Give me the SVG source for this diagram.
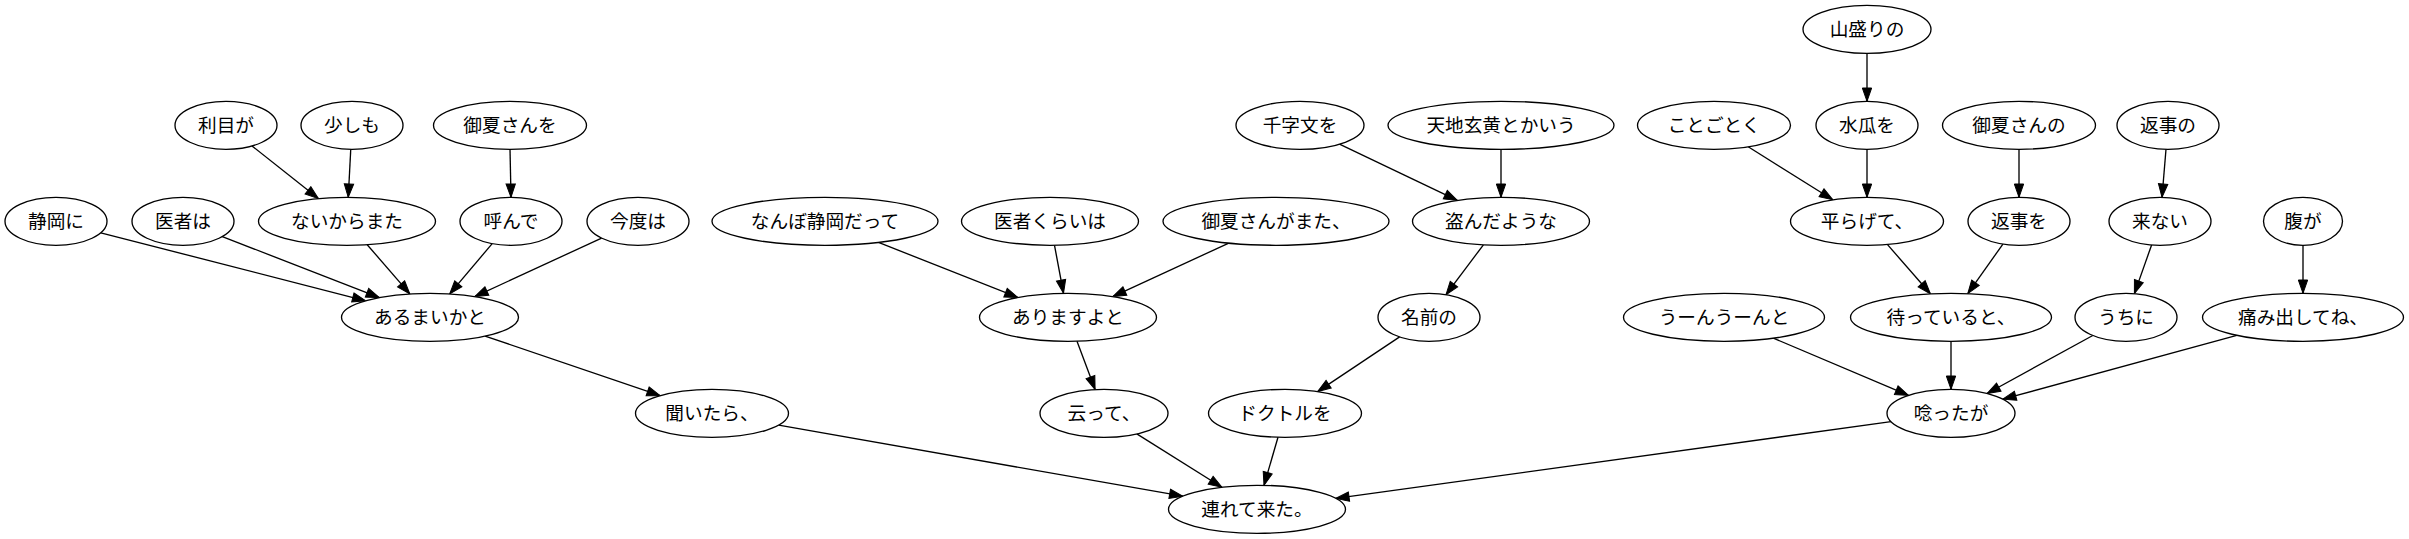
<svg xmlns="http://www.w3.org/2000/svg" width="2409" height="539" viewBox="0 0 2409 539">
<style>
.n ellipse{fill:#fff;stroke:#000;stroke-width:1.33}
.n text{font-family:"Noto Sans CJK JP","Noto Sans",sans-serif;font-size:18.67px;text-anchor:middle;fill:#000}
.e line{stroke:#000;stroke-width:1.33;marker-end:url(#ah)}
</style>
<defs>
<marker id="ah" markerUnits="userSpaceOnUse" markerWidth="16" markerHeight="12" viewBox="0 -6 14 12" refX="13.3" refY="0" orient="auto">
<path d="M0,-4.67 L13.3,0 L0,4.67 z" fill="#000" stroke="#000" stroke-width="1"/>
</marker>
</defs>
<rect width="2409" height="539" fill="#fff"/>
<g id="edges" class="e">
<line x1="252.0" y1="145.9" x2="318.4" y2="198.6"/>
<line x1="350.75" y1="149.3" x2="348.25" y2="197.3"/>
<line x1="510" y1="149.3" x2="511" y2="197.3"/>
<line x1="100.8" y1="232.8" x2="365.7" y2="300.8"/>
<line x1="222.3" y1="236.6" x2="379.4" y2="297.6"/>
<line x1="367.2" y1="244.7" x2="409.8" y2="293.9"/>
<line x1="492.2" y1="243.6" x2="449.7" y2="293.9"/>
<line x1="601.6" y1="238.1" x2="474.8" y2="296.6"/>
<line x1="485.1" y1="336.1" x2="660.2" y2="395.7"/>
<line x1="778.7" y1="425.1" x2="1182.8" y2="496.2"/>
<line x1="878.5" y1="242.4" x2="1017.9" y2="297.5"/>
<line x1="1054.5" y1="245.3" x2="1063.5" y2="293.3"/>
<line x1="1228.8" y1="243.1" x2="1112.8" y2="296.6"/>
<line x1="1077.0" y1="341.2" x2="1095.1" y2="389.5"/>
<line x1="1136.8" y1="433.9" x2="1221.9" y2="487.3"/>
<line x1="1339.5" y1="144.2" x2="1457.3" y2="200.4"/>
<line x1="1501" y1="149.3" x2="1501" y2="197.3"/>
<line x1="1483.4" y1="244.8" x2="1446.0" y2="294.7"/>
<line x1="1399.6" y1="336.9" x2="1317.6" y2="391.6"/>
<line x1="1278.0" y1="437.2" x2="1264.0" y2="485.4"/>
<line x1="1891.0" y1="421.6" x2="1335.8" y2="498.4"/>
<line x1="1867" y1="53.3" x2="1867" y2="101.3"/>
<line x1="1748.2" y1="146.8" x2="1832.8" y2="199.8"/>
<line x1="1867" y1="149.3" x2="1867" y2="197.3"/>
<line x1="2019" y1="149.3" x2="2019" y2="197.3"/>
<line x1="2166.0" y1="149.3" x2="2162.0" y2="197.3"/>
<line x1="1887.3" y1="244.4" x2="1930.4" y2="293.8"/>
<line x1="2002.9" y1="244.1" x2="1967.8" y2="293.6"/>
<line x1="2151.6" y1="245.0" x2="2134.4" y2="293.6"/>
<line x1="2303" y1="245.3" x2="2303" y2="293.3"/>
<line x1="1773.4" y1="338.2" x2="1908.5" y2="395.3"/>
<line x1="1951" y1="341.3" x2="1951" y2="389.3"/>
<line x1="2092.8" y1="335.5" x2="1987.1" y2="393.5"/>
<line x1="2236.8" y1="335.4" x2="2002.8" y2="399.2"/>
</g>
<g id="n1" class="n"><ellipse cx="56" cy="221.3" rx="51" ry="24"/><text x="56" y="228.3">静岡に</text></g>
<g id="n2" class="n"><ellipse cx="183" cy="221.3" rx="51" ry="24"/><text x="183" y="228.3">医者は</text></g>
<g id="n3" class="n"><ellipse cx="347" cy="221.3" rx="88.5" ry="24"/><text x="347" y="228.3">ないからまた</text></g>
<g id="n4" class="n"><ellipse cx="511" cy="221.3" rx="51" ry="24"/><text x="511" y="228.3">呼んで</text></g>
<g id="n5" class="n"><ellipse cx="638" cy="221.3" rx="51" ry="24"/><text x="638" y="228.3">今度は</text></g>
<g id="n6" class="n"><ellipse cx="226" cy="125.3" rx="51" ry="24"/><text x="226" y="132.3">利目が</text></g>
<g id="n7" class="n"><ellipse cx="352" cy="125.3" rx="51" ry="24"/><text x="352" y="132.3">少しも</text></g>
<g id="n8" class="n"><ellipse cx="510" cy="125.3" rx="76.5" ry="24"/><text x="510" y="132.3">御夏さんを</text></g>
<g id="n9" class="n"><ellipse cx="430" cy="317.3" rx="88.5" ry="24"/><text x="430" y="324.3">あるまいかと</text></g>
<g id="n10" class="n"><ellipse cx="712" cy="413.3" rx="76.5" ry="24"/><text x="712" y="420.3">聞いたら、</text></g>
<g id="n11" class="n"><ellipse cx="825" cy="221.3" rx="113" ry="24"/><text x="825" y="228.3">なんぼ静岡だって</text></g>
<g id="n12" class="n"><ellipse cx="1050" cy="221.3" rx="88.5" ry="24"/><text x="1050" y="228.3">医者くらいは</text></g>
<g id="n13" class="n"><ellipse cx="1276" cy="221.3" rx="113" ry="24"/><text x="1276" y="228.3">御夏さんがまた、</text></g>
<g id="n14" class="n"><ellipse cx="1068" cy="317.3" rx="88.5" ry="24"/><text x="1068" y="324.3">ありますよと</text></g>
<g id="n15" class="n"><ellipse cx="1104" cy="413.3" rx="64" ry="24"/><text x="1104" y="420.3">云って、</text></g>
<g id="n16" class="n"><ellipse cx="1300" cy="125.3" rx="64" ry="24"/><text x="1300" y="132.3">千字文を</text></g>
<g id="n17" class="n"><ellipse cx="1501" cy="125.3" rx="113" ry="24"/><text x="1501" y="132.3">天地玄黄とかいう</text></g>
<g id="n18" class="n"><ellipse cx="1501" cy="221.3" rx="88.5" ry="24"/><text x="1501" y="228.3">盗んだような</text></g>
<g id="n19" class="n"><ellipse cx="1429" cy="317.3" rx="51" ry="24"/><text x="1429" y="324.3">名前の</text></g>
<g id="n20" class="n"><ellipse cx="1285" cy="413.3" rx="76.5" ry="24"/><text x="1285" y="420.3">ドクトルを</text></g>
<g id="n21" class="n"><ellipse cx="1257" cy="509.3" rx="88.5" ry="24"/><text x="1257" y="516.3">連れて来た。</text></g>
<g id="n22" class="n"><ellipse cx="1867" cy="29.3" rx="64" ry="24"/><text x="1867" y="36.3">山盛りの</text></g>
<g id="n23" class="n"><ellipse cx="1714" cy="125.3" rx="76.5" ry="24"/><text x="1714" y="132.3">ことごとく</text></g>
<g id="n24" class="n"><ellipse cx="1867" cy="125.3" rx="51" ry="24"/><text x="1867" y="132.3">水瓜を</text></g>
<g id="n25" class="n"><ellipse cx="2019" cy="125.3" rx="76.5" ry="24"/><text x="2019" y="132.3">御夏さんの</text></g>
<g id="n26" class="n"><ellipse cx="2168" cy="125.3" rx="51" ry="24"/><text x="2168" y="132.3">返事の</text></g>
<g id="n27" class="n"><ellipse cx="1867" cy="221.3" rx="76.5" ry="24"/><text x="1867" y="228.3">平らげて、</text></g>
<g id="n28" class="n"><ellipse cx="2019" cy="221.3" rx="51" ry="24"/><text x="2019" y="228.3">返事を</text></g>
<g id="n29" class="n"><ellipse cx="2160" cy="221.3" rx="51" ry="24"/><text x="2160" y="228.3">来ない</text></g>
<g id="n30" class="n"><ellipse cx="2303" cy="221.3" rx="39.5" ry="24"/><text x="2303" y="228.3">腹が</text></g>
<g id="n31" class="n"><ellipse cx="1724" cy="317.3" rx="100.5" ry="24"/><text x="1724" y="324.3">うーんうーんと</text></g>
<g id="n32" class="n"><ellipse cx="1951" cy="317.3" rx="100.5" ry="24"/><text x="1951" y="324.3">待っていると、</text></g>
<g id="n33" class="n"><ellipse cx="2126" cy="317.3" rx="51" ry="24"/><text x="2126" y="324.3">うちに</text></g>
<g id="n34" class="n"><ellipse cx="2303" cy="317.3" rx="100.5" ry="24"/><text x="2303" y="324.3">痛み出してね、</text></g>
<g id="n35" class="n"><ellipse cx="1951" cy="413.3" rx="64" ry="24"/><text x="1951" y="420.3">唸ったが</text></g>
</svg>
